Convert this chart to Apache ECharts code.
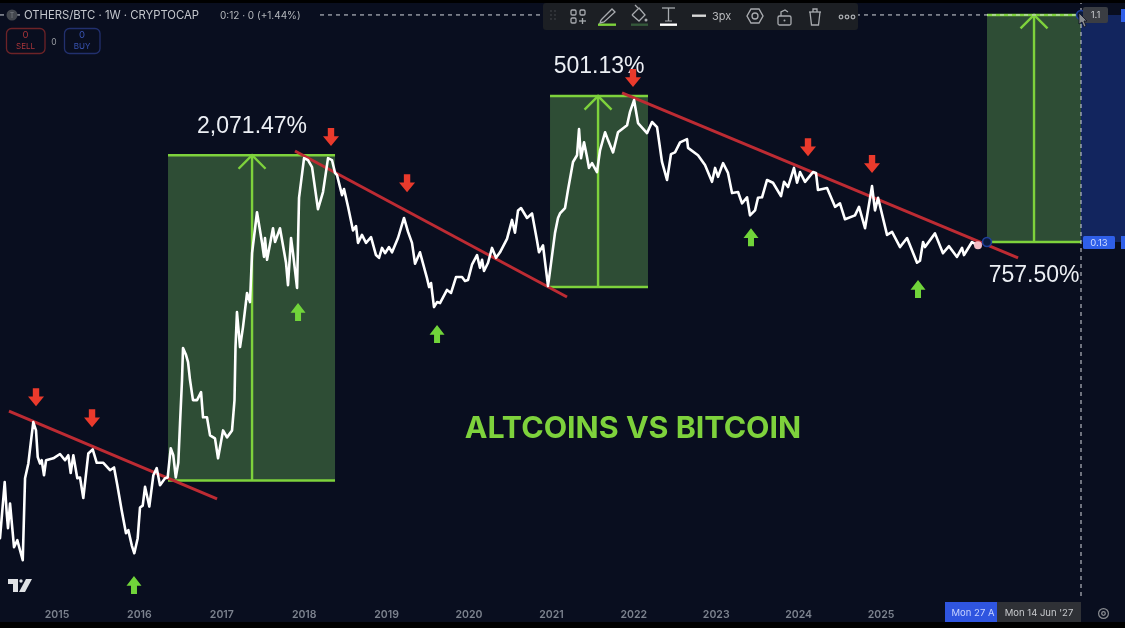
<!DOCTYPE html>
<html><head><meta charset="utf-8">
<style>html,body{margin:0;padding:0;background:#090e1f}#c{width:1125px;height:628px}</style>
<script src="https://cdn.jsdelivr.net/npm/echarts@6/dist/echarts.min.js"></script>
</head><body><div id="c"></div>
<script>
const yearTicks=[2015,2016,2017,2018,2019,2020,2021,2022,2023,2024,2025];
const priceYears=[2014.308,2014.365,2014.390,2014.405,2014.430,2014.454,2014.478,2014.518,2014.551,2014.584,2014.612,2014.652,2014.681,2014.712,2014.745,2014.766,2014.794,2014.814,2014.842,2014.867,2014.955,
2015.036,2015.097,2015.137,2015.166,2015.198,2015.246,2015.279,2015.319,2015.340,2015.380,2015.433,2015.482,2015.562,2015.643,2015.692,2015.732,2015.785,2015.837,2015.865,2015.907,2015.938,2015.979,
2016.007,2016.040,2016.068,2016.120,2016.169,2016.210,2016.250,2016.311,2016.343,2016.380,2016.411,2016.441,2016.472,2016.493,2016.517,2016.529,2016.566,2016.590,2016.614,2016.650,2016.699,2016.748,2016.772,2016.820,2016.857,2016.917,2016.954,
2017.015,2017.063,2017.124,2017.154,2017.166,2017.184,2017.221,2017.257,2017.306,2017.342,2017.367,2017.427,2017.488,2017.512,2017.524,2017.549,2017.621,2017.646,2017.706,2017.779,2017.803,2017.840,2017.864,2017.913,2017.937,2017.998,
2018.046,2018.095,2018.167,2018.228,2018.289,2018.337,2018.374,2018.398,2018.459,2018.483,2018.532,2018.592,2018.629,2018.653,2018.701,2018.750,2018.811,2018.871,2018.908,2018.944,2018.981,
2019.029,2019.066,2019.138,2019.211,2019.260,2019.308,2019.345,2019.405,2019.490,2019.515,2019.539,2019.575,2019.612,2019.648,2019.733,2019.782,2019.842,2019.915,2019.951,2019.988,
2020.036,2020.097,2020.133,2020.158,2020.182,2020.231,2020.279,2020.328,2020.376,2020.461,2020.522,2020.558,2020.595,2020.631,2020.704,2020.765,2020.825,2020.849,2020.898,2020.959,
2021.044,2021.080,2021.104,2021.165,2021.201,2021.262,2021.311,2021.335,2021.359,2021.396,2021.432,2021.456,2021.493,2021.553,2021.590,2021.651,2021.687,2021.748,2021.808,2021.918,2021.954,
2022.003,2022.051,2022.160,2022.221,2022.282,2022.342,2022.403,2022.451,2022.500,2022.561,2022.646,2022.658,2022.779,2022.864,2022.949,2022.986,
2023.022,2023.083,2023.143,2023.192,2023.265,2023.313,2023.374,2023.410,2023.471,2023.507,2023.556,2023.617,2023.689,2023.786,2023.823,2023.871,2023.944,2023.981,
2024.017,2024.078,2024.175,2024.211,2024.235,2024.345,2024.442,2024.502,2024.563,2024.684,2024.733,2024.806,2024.891,2024.927,2024.964,
2025.073,2025.134,2025.231,2025.316,2025.437,2025.473,2025.510,2025.534,2025.655,2025.752,2025.825,2025.922,2025.983,
2026.007,2026.104,2026.177];
const priceValues=[.00802,.0136,.0101,.00881,.0111,.0110,.00737,.00787,.00716,.00652,.0141,.0162,.0196,.0239,.0221,.0172,.0162,.0167,.0145,.0167,.0170,
.0177,.0167,.0175,.0148,.0175,.0141,.0142,.0117,.0117,.0178,.0185,.0163,.0163,.0152,.0156,.0132,.0104,.00840,.00865,.00750,.00696,.00802,
.0107,.0109,.0130,.0108,.0145,.0155,.0132,.0141,.0142,.0187,.0175,.0142,.0163,.0237,.0355,.0480,.0449,.0420,.0355,.0294,.0294,.0317,.0250,.0250,.0211,.0205,.0170,
.0221,.0207,.0221,.0294,.0484,.0673,.0484,.0584,.0805,.0739,.117,.172,.129,.113,.135,.110,.148,.130,.148,.107,.0867,.135,.117,.0844,.197,.286,
.281,.263,.177,.208,.286,.281,.249,.244,.202,.214,.181,.145,.151,.129,.139,.129,.136,.115,.112,.123,.117,
.124,.118,.135,.163,.143,.129,.106,.118,.0926,.0851,.0884,.0705,.0739,.0732,.0828,.0805,.0935,.0935,.0901,.0910,
.105,.115,.102,.110,.0990,.107,.123,.112,.118,.134,.160,.142,.175,.179,.163,.170,.132,.118,.126,.0859,
.142,.163,.170,.179,.212,.276,.294,.376,.286,.332,.289,.261,.273,.251,.308,.365,.339,.302,.365,.390,.442,
.494,.398,.362,.402,.383,.276,.233,.297,.302,.332,.342,.315,.294,.268,.229,.261,
.240,.273,.249,.206,.208,.187,.198,.167,.175,.197,.198,.233,.227,.200,.229,.218,.261,.227,
.251,.229,.251,.249,.212,.216,.181,.187,.161,.167,.181,.148,.220,.175,.197,
.139,.143,.124,.135,.107,.109,.130,.124,.141,.117,.125,.113,.123,
.115,.130,.126];

const trendA=[[2014.417,.0265],[2016.942,.0116]];
const trendB=[[2017.888,.306],[2021.189,.0775]];
const trendC=[[2021.857,.528],[2026.663,.112]];

const boxStart=[2016.347,2020.983,2026.286];
const boxEnd=[2018.374,2022.172,2027.427];
const boxMid=[2017.367,2021.566,2026.857];
const boxTop=[.294,.513,1.1];
const boxBottom=[.0138,.0851,.13];
const pctYears=[2017.367,2021.578,2026.857];
const pctValues=[.386,.675,.0943];
const pctTexts=['2,071.47%','501.13%','757.50%'];

const sellYears=[2014.745,2015.425,2018.325,2019.248,2021.990,2024.114,2024.891];
const sellValues=[.0302,.0248,.349,.226,.608,.317,.271];
const buyYears=[2015.934,2017.925,2019.612,2023.422,2025.449];
const buyValues=[.00516,.0673,.0547,.136,.0836];

const titleText='ALTCOINS VS BITCOIN';
const axisMinX=2014.308,axisMaxX=2027.961,axisMinY=.004657,axisMaxY=1.266;
const cursorYear=2027.427,targetPrice=1.1,entryPrice=.13,entryYear=2026.286;

const GREEN='#7ed23c',RED='#bd2b33',WHITE='#ffffff',BG='#090e1f';
const upPath='path://M5 0L10 6.5L7 6.5L7 12L3 12L3 6.5L0 6.5Z';
const downPath='path://M3 0L7 0L7 5.5L10 5.5L5 12L0 5.5L3 5.5Z';

function trend(d){return {type:'line',data:d,symbol:'none',silent:true,z:4,lineStyle:{color:RED,width:3},animation:false};}

const g=[];
const Z=50;
function R(x,y,w,h,fill,r,stroke){g.push({type:'rect',z:Z,shape:{x,y,width:w,height:h,r:r||0},style:{fill:fill||'none',stroke:stroke||null,lineWidth:stroke?1.3:0}});}
function T(x,y,t,size,fill,align,w){g.push({type:'text',z:Z+1,x,y,style:{text:t,font:(w||'normal')+' '+size+'px Inter, sans-serif',fill,align:align||'left',verticalAlign:'middle'}});}
function P(pts,stroke,lw,closed,fill){g.push({type:closed?'polygon':'polyline',z:Z+1,shape:{points:pts},style:{stroke:stroke||null,lineWidth:lw||1.3,fill:fill||'none'}});}
function C(cx,cy,r,stroke,fill,lw){g.push({type:'circle',z:Z+1,shape:{cx,cy,r},style:{stroke:stroke||null,fill:fill||'none',lineWidth:lw||1.3}});}

R(0,0,1125,3,'#000');R(0,622,1125,6,'#000');
const ic='#a8abaf';
R(543,3,315,27,'#1c1f24',3);
[[551,11],[555,11],[551,15],[555,15],[551,19],[555,19]].forEach(p=>C(p[0],p[1],.9,null,'#3a3d42'));
R(571,10,5,5,null,1.2,ic);R(580,10,5,5,null,1.2,ic);R(571,18,5,5,null,1.2,ic);P([[579,21],[586,21]],ic);P([[582.5,18],[582.5,24]],ic);
P([[601,20],[612,9],[615,12],[604,22],[600,23],[601,20]],ic,1.3);R(598,23.5,18,2.4,GREEN);
P([[632,15],[639,8],[645,15],[639,21],[632,15]],ic,1.3);P([[638,8],[635,5]],ic);C(646,20,1.5,null,ic);R(631,23.5,17,2.4,'#35583a');
P([[662,8],[675,8]],ic,1.3);P([[668.5,8],[668.5,21]],ic,1.3);P([[665,21],[672,21]],ic,1);R(660,23.5,17,2.4,'#fff');
R(692,14.5,14,2.4,'#d8d8d8');T(712,17,'3px',11,'#b8babd');
P([[747,16],[751,9],[759,9],[763,16],[759,23],[751,23]],ic,1.4,true);C(755,16,3,ic);
R(778,16,13,9,null,1.5,ic);P([[781,16],[781,12],[785,10],[788,12]],ic);C(784.5,20.5,1,null,ic);
P([[809,12],[821,12]],ic);P([[813,12],[813,9],[817,9],[817,12]],ic);P([[810,12],[811.5,25],[818.5,25],[820,12]],ic);
C(841,17,1.8,ic);C(847,17,1.8,ic);C(853,17,1.8,ic);
// header: opaque strip keeps the crosshair from running through the text
R(20,8,296,15,BG);
C(12,15,5.5,null,'#43474e');T(12,15.5,'T',7,'#7d8187','center');
T(24,15.5,'OTHERS/BTC · 1W · CRYPTOCAP',11.3,'#c3c6cc');T(220,15.5,'0:12 · 0 (+1.44%)',10,'#b4b7bc');
R(6.5,28.5,38.5,25,null,5,'#6d2327');T(25.5,35.5,'0',9.5,'#a8353a','center');T(25.5,47,'SELL',8,'#a8353a','center');
T(54,42,'0',8.5,'#9a9da3','center');
R(64.5,28.5,35.5,25,null,5,'#22306e');T(82,35.5,'0',9.5,'#3a55b5','center');T(82,47,'BUY',8,'#3a55b5','center');
R(1083,7,25,16,'#3a3d43',2);T(1095.5,15.5,'1.1',9.5,'#c9ccd0','center');
R(1083,236,32,13,'#2f5fe8',1.5);T(1099,243,'0.13',9.5,'#cfdcff','center');
R(1121,9,4,13,'#2f5fe8');R(1121,236,4,13,'#2f5fe8');
R(945,602,52,20,'#2f55e0');T(973,613,'Mon 27 A',9.5,'#c8d4ff','center');
R(997,602,84,20,'#2f3136');T(1039,613,"Mon 14 Jun '27",9.5,'#c8cacd','center');
g.push({type:'ring',z:Z,shape:{cx:1103.5,cy:613.5,r:5.5,r0:4.3},style:{fill:'#8a8d92'}});C(1103.5,613.5,1.8,'#8a8d92');
P([[8,579],[18,579],[18,592],[13,592],[13,584],[8,584]],null,1,true,'#dfe1e4');C(21,581,1.7,null,'#dfe1e4');
P([[26,579],[32,579],[25,592],[19,592]],null,1,true,'#dfe1e4');
P([[1079,13],[1079,24],[1082,22],[1084,27],[1086,26],[1084,21],[1087,21]],'#0c1020',.8,true,'#8a8d92');

const option={
 backgroundColor:BG,animation:false,
 grid:{left:0,top:0,width:1125,height:596,containLabel:false},
 xAxis:{type:'value',min:axisMinX,max:axisMaxX,splitLine:{show:false},axisLine:{show:false},axisTick:{show:false},
  axisLabel:{customValues:yearTicks,formatter:v=>String(Math.round(v)),color:'#7c828e',fontSize:10.5,fontWeight:600,fontFamily:'Inter, sans-serif',margin:13}},
 yAxis:{type:'log',logBase:10,min:axisMinY,max:axisMaxY,show:false,splitLine:{show:false}},
 graphic:{elements:g},
 series:[
  {type:'line',name:'band',data:[[cursorYear,entryPrice],[axisMaxX,entryPrice]],symbol:'none',lineStyle:{width:0},z:1,
   markArea:{silent:true,itemStyle:{color:'#12255e',opacity:1},data:[[{coord:[cursorYear,targetPrice]},{coord:[axisMaxX,entryPrice]}]]}},
  {type:'custom',name:'boxes',z:2,clip:false,silent:true,encode:{x:[0,1,2],y:[3,4]},
   data:boxStart.map((s,i)=>[s,boxEnd[i],boxMid[i],boxTop[i],boxBottom[i]]),
   renderItem:(p,api)=>{
    const a=api.coord([api.value(0),api.value(3)]),b=api.coord([api.value(1),api.value(4)]),mx=api.coord([api.value(2),api.value(3)])[0];
    const ln={stroke:GREEN,lineWidth:2.4,fill:null};
    return {type:'group',children:[
     {type:'rect',shape:{x:a[0],y:a[1],width:b[0]-a[0],height:b[1]-a[1]},style:{fill:'#2e4d35'}},
     {type:'line',shape:{x1:a[0],y1:a[1],x2:b[0],y2:a[1]},style:ln},
     {type:'line',shape:{x1:a[0],y1:b[1],x2:b[0],y2:b[1]},style:ln},
     {type:'line',shape:{x1:mx,y1:a[1],x2:mx,y2:b[1]},style:ln},
     {type:'polyline',shape:{points:[[mx-13.5,a[1]+13.5],[mx,a[1]],[mx+13.5,a[1]+13.5]]},style:ln}
    ]};
   }},
  {type:'line',name:'crossH',data:[[axisMinX,targetPrice],[cursorYear,targetPrice]],symbol:'none',z:3,silent:true,lineStyle:{color:'#d5d8de',width:1,type:[4,4]}},
  {type:'line',name:'crossV',data:[[cursorYear,axisMaxY],[cursorYear,axisMinY]],symbol:'none',z:3,silent:true,lineStyle:{color:'#d5d8de',width:1,type:[4,4]}},
  trend(trendA),trend(trendB),trend(trendC),
  {type:'line',name:'OTHERS/BTC',data:priceYears.map((y,i)=>[y,priceValues[i]]),symbol:'none',z:5,silent:true,lineStyle:{color:WHITE,width:2.6,join:'round',cap:'round'}},
  {type:'scatter',name:'last',data:[[priceYears[priceYears.length-1],priceValues[priceValues.length-1]]],symbolSize:8,z:6,itemStyle:{color:'#f3bcc4',opacity:1}},
  {type:'scatter',name:'anchors',data:[[entryYear,entryPrice],[cursorYear,targetPrice]],symbolSize:9,z:6,itemStyle:{color:'#0b1a3c',borderColor:'#1f3f9a',borderWidth:1.5,opacity:1}},
  {type:'scatter',name:'sell',data:sellYears.map((y,i)=>[y,sellValues[i]]),symbol:downPath,symbolSize:[16,18],z:7,itemStyle:{color:'#ea3a2c',opacity:1}},
  {type:'scatter',name:'buy',data:buyYears.map((y,i)=>[y,buyValues[i]]),symbol:upPath,symbolSize:[15,18],z:7,itemStyle:{color:'#71d43a',opacity:1}},
  {type:'scatter',name:'pct',data:pctYears.map((y,i)=>[y,pctValues[i]]),symbolSize:0,z:6,itemStyle:{opacity:1},
   label:{show:true,position:'inside',formatter:p=>pctTexts[p.dataIndex],color:'#eceff4',fontSize:23,fontFamily:'Liberation Sans, sans-serif'}},
  {type:'scatter',name:'title',data:[[2021.990,.0224]],symbolSize:0,z:6,itemStyle:{opacity:1},
   label:{show:true,position:'inside',formatter:titleText,color:'#7ed23c',fontSize:30.4,fontWeight:700,fontFamily:'Inter, sans-serif'}}
 ]
};
const chart=echarts.init(document.getElementById('c'),null,{renderer:'canvas'});
chart.setOption(option);
</script></body></html>
